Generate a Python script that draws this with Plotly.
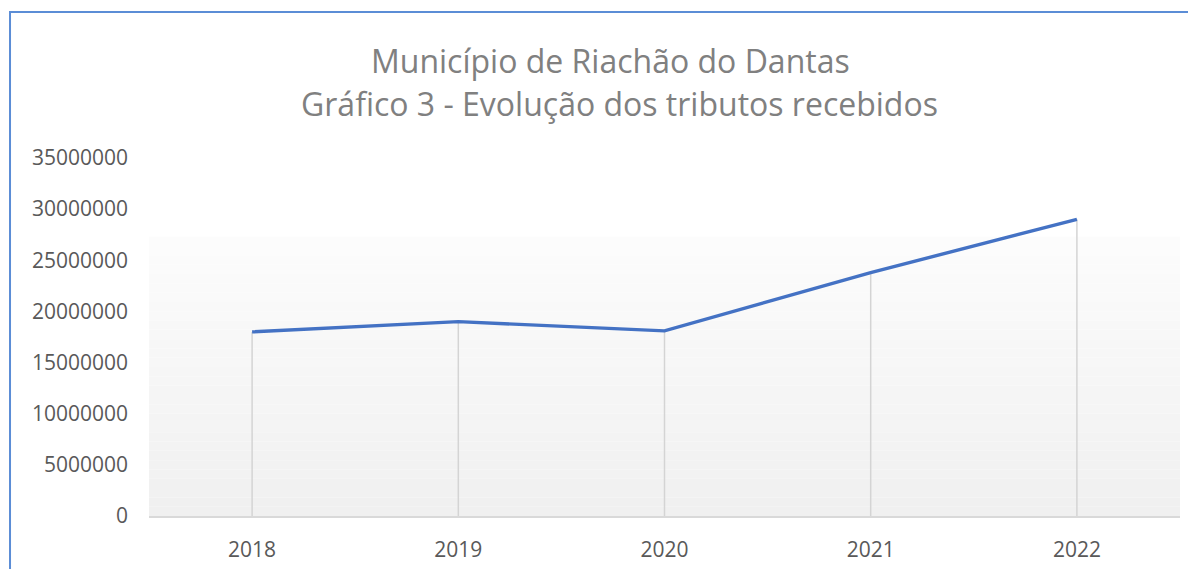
import plotly.graph_objects as go

years = ["2018", "2019", "2020", "2021", "2022"]
tributos = [18000000, 19000000, 18100000, 23800000, 29000000]
y_ticks = [0, 5000000, 10000000, 15000000, 20000000, 25000000, 30000000, 35000000]

title_line1 = "Município de Riachão do Dantas"
title_line2 = "Gráfico 3 - Evolução dos tributos recebidos"

fig = go.Figure()

# drop lines (from points down to the axis)
fig.add_trace(go.Scatter(
    x=years, y=tributos, mode="markers",
    marker=dict(size=1, color="rgba(0,0,0,0)"),
    error_y=dict(type="data", symmetric=False, array=[0] * len(tributos),
                 arrayminus=tributos, color="#d4d4d4", thickness=1.5, width=0),
    hoverinfo="skip", showlegend=False,
))

fig.add_trace(go.Scatter(
    x=years, y=tributos, mode="lines",
    line=dict(color="#4472C4", width=3.4),
    showlegend=False,
))

# subtle vertical gradient in the plot area
shapes = []
n = 30
top = 0.78
for i in range(n):
    y0 = top * i / n
    y1 = top * (i + 1) / n
    t = i / (n - 1)
    g = int(round(240 + (252 - 240) * t))
    shapes.append(dict(type="rect", xref="x domain", yref="y domain",
                       x0=0, x1=1, y0=y0, y1=y1, layer="below",
                       fillcolor=f"rgb({g},{g},{g})", line=dict(width=0)))

# chart border (partially visible)
shapes.append(dict(type="rect", xref="paper", yref="paper",
                   x0=-0.1348, x1=1.2, y0=-0.4, y1=1.4078,
                   line=dict(color="#5B8DD6", width=2), fillcolor="rgba(0,0,0,0)"))

title_font = dict(family="Open Sans", size=32, color="#808080")
annotations = [
    dict(text=title_line1, xref="paper", yref="paper", x=0.448, y=1.2737,
         xanchor="center", yanchor="middle", showarrow=False, font=title_font),
    dict(text=title_line2, xref="paper", yref="paper", x=0.4568, y=1.1536,
         xanchor="center", yanchor="middle", showarrow=False, font=title_font),
]

fig.update_layout(
    width=1188, height=561,
    margin=dict(l=141, r=16, t=150, b=53),
    paper_bgcolor="white", plot_bgcolor="white",
    shapes=shapes,
    annotations=annotations,
    font=dict(family="Open Sans", color="#595959"),
    xaxis=dict(
        type="category", range=[-0.5, 4.5], automargin=False,
        showgrid=False, showline=True, linecolor="#d9d9d9", linewidth=1.5,
        ticks="", tickfont=dict(size=21, color="#595959"), zeroline=False,
        ticklabelstandoff=14,
    ),
    yaxis=dict(
        range=[0, 35000000], tickvals=y_ticks, automargin=False,
        ticktext=[str(v) for v in y_ticks],
        showgrid=False, showline=False, zeroline=False, ticks="",
        tickfont=dict(size=21, color="#595959"),
        ticklabelstandoff=20,
    ),
)

fig.write_html("out.html")
